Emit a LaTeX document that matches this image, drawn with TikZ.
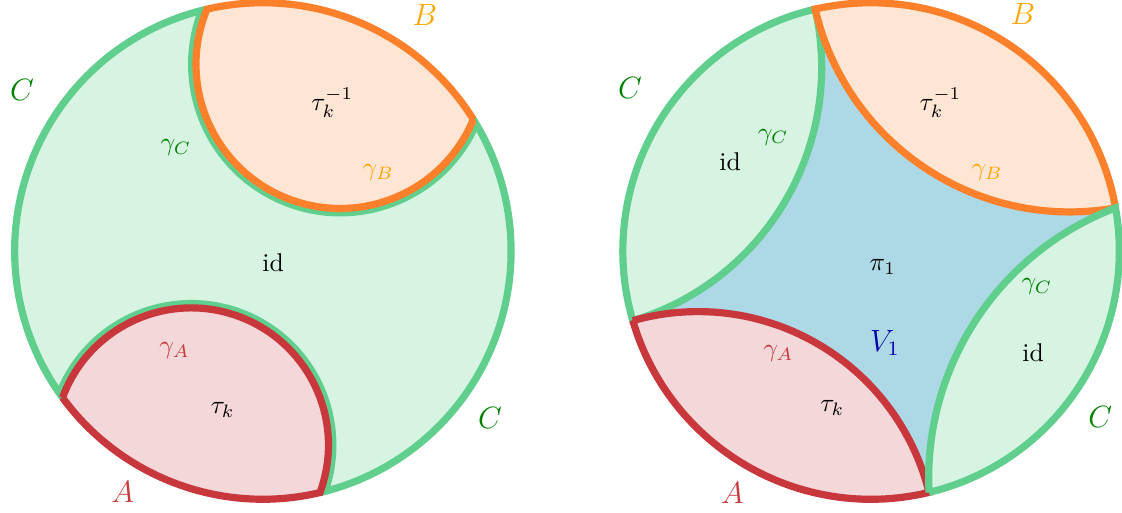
\documentclass[tikz,border=0pt]{standalone}
\usepackage{amsmath,amssymb}
\usepackage{tikz}
\usetikzlibrary{positioning}

\definecolor{cgreen}{RGB}{96,207,141}
\definecolor{corange}{RGB}{255,128,42}
\definecolor{cred}{RGB}{200,55,60}
\definecolor{cblue}{RGB}{173,216,230}
\definecolor{lblgreen}{RGB}{0,128,0}
\definecolor{lblorange}{RGB}{255,165,0}
\definecolor{lblblue}{RGB}{0,0,170}

% arc from rim angle #1 to rim angle #2 (#1>#2), bent by #3 towards the centre
\newcommand{\rimarc}[3]{arc[start angle={(#1+#2)/2-180-#3}, delta angle={2*#3}, radius={3.4*sin((#1-#2)/2)/sin(#3)}]}

\begin{document}
\begin{tikzpicture}[
  region/.style={line width=2.8pt, line join=miter, miter limit=2},
  big/.style={font=\large}]
\useasboundingbox (-3.60,-3.575) rectangle (11.767,3.438);

% left disk
\draw[region, draw=cgreen, fill=cgreen!25]
  (32:3.4) arc[start angle=32, end angle=-76.7, radius=3.4]
  \rimarc{283.3}{216.2}{90}
  arc[start angle=216.2, end angle=103, radius=3.4]
  \rimarc{103}{32}{90} -- cycle;
\begin{scope}
  \clip (0,0) circle (3.4);
  \draw[cgreen, line width=6.2pt] (103:3.4) \rimarc{103}{32}{90};
  \draw[cgreen, line width=6.2pt] (283.3:3.4) \rimarc{283.3}{216.2}{90};
\end{scope}
\draw[region, draw=corange, fill=corange!20]
  (32:3.4) arc[start angle=32, end angle=103, radius=3.4] \rimarc{103}{32}{90} -- cycle;
\draw[region, draw=cred, fill=cred!20]
  (216.2:3.4) arc[start angle=216.2, end angle=283.3, radius=3.4] \rimarc{283.3}{216.2}{90} -- cycle;

\node[big, text=lblgreen] (lC1) at (-3.30,2.21) {$C$};
\node[big, text=lblgreen] (lC2) at (3.11,-2.29) {$C$};
\node[big, text=lblorange] (lB) at (2.22,3.23) {$B$};
\node[big, text=cred] (lA) at (-1.92,-3.30) {$A$};
\node (ltauinv) at (0.95,2.03) {$\tau_k^{-1}$};
\node[text=lblgreen] (lgC) at (-1.19,1.42) {$\gamma_C$};
\node[text=lblorange] (lgB) at (1.58,1.08) {$\gamma_B$};
\node (lid) at (0.14,-0.16) {id};
\node[text=cred] (lgA) at (-1.21,-1.36) {$\gamma_A$};
\node (ltau) at (-0.55,-2.18) {$\tau_k$};

% right disk
\begin{scope}[shift={(8.33,0)}]
  \fill[cblue] (0,0) circle (3.4);
  \draw[region, draw=cgreen, fill=cgreen!25]
    (103:3.4) arc[start angle=103, end angle=196.3, radius=3.4] \rimarc{196.3}{103}{43} -- cycle;
  \draw[region, draw=corange, fill=corange!20]
    (10:3.4) arc[start angle=10, end angle=103, radius=3.4] \rimarc{103}{10}{43.5} -- cycle;
  \draw[region, draw=cred, fill=cred!20]
    (196.3:3.4) arc[start angle=196.3, end angle=283.5, radius=3.4] \rimarc{283.5}{196.3}{46} -- cycle;
  \draw[region, draw=cgreen, fill=cgreen!25]
    (283.5:3.4) arc[start angle=283.5, end angle=370, radius=3.4] \rimarc{370}{283.5}{36} -- cycle;

  \node[big, text=lblgreen] (rC1) at (-3.30,2.23) {$C$};
  \node[big, text=lblgreen] (rC2) at (3.14,-2.27) {$C$};
  \node[big, text=lblorange] (rB) at (2.08,3.25) {$B$};
  \node[big, text=cred] (rA) at (-1.90,-3.32) {$A$};
  \node[big, text=lblblue] (rV) at (0.19,-1.26) {$V_1$};
  \node (rtauinv) at (0.95,2.03) {$\tau_k^{-1}$};
  \node[text=lblgreen] (rgC1) at (-1.34,1.56) {$\gamma_C$};
  \node (rid1) at (-1.93,1.22) {id};
  \node[text=lblorange] (rgB) at (1.59,1.07) {$\gamma_B$};
  \node (rpi) at (0.16,-0.22) {$\pi_1$};
  \node[text=lblgreen] (rgC2) at (2.27,-0.49) {$\gamma_C$};
  \node (rid2) at (2.22,-1.40) {id};
  \node[text=cred] (rgA) at (-1.27,-1.40) {$\gamma_A$};
  \node (rtau) at (-0.53,-2.15) {$\tau_k$};
\end{scope}
\end{tikzpicture}
\end{document}
